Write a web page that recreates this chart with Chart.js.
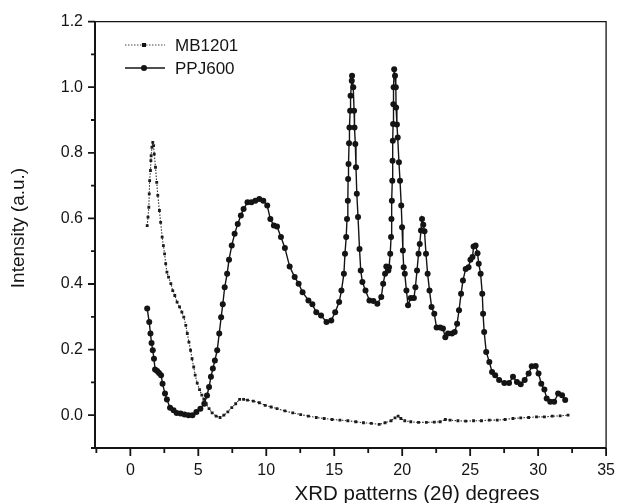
<!DOCTYPE html>
<html><head><meta charset="utf-8">
<script src="https://cdn.jsdelivr.net/npm/chart.js@4/dist/chart.umd.min.js"></script>
<style>html,body{margin:0;padding:0;background:#fff}#wrap{width:628px;height:503px}</style>
</head><body><div id="wrap"><canvas id="c" width="628" height="503"></canvas></div>
<script>
const seriesNames = ['MB1201', 'PPJ600'];
const xTitle = 'XRD patterns (2θ) degrees';
const yTitle = 'Intensity (a.u.)';
const xTickValues = [0, 5, 10, 15, 20, 25, 30, 35];
const xMinorValues = [-2.5, 2.5, 7.5, 12.5, 17.5, 22.5, 27.5, 32.5];
const yTickValues = [0, 0.2, 0.4, 0.6, 0.8, 1.0, 1.2];
const yMinorValues = [-0.1, 0.1, 0.3, 0.5, 0.7, 0.9, 1.1];

const mbX = [1.24,1.30,1.36,1.39,1.42,1.48,1.51,1.53,1.59,1.65,1.71,1.76,1.85,1.94,2.02,2.14,2.23,2.34,2.43,2.52,2.60,2.69,2.81,2.98,3.12,3.27,3.44,3.62,3.79,3.93,4.08,4.19,4.31,4.43,4.54,4.66,4.77,4.92,5.09,5.26,5.41,5.58,5.79,6.02,6.31,6.60,6.88,7.17,7.46,7.75,8.04,8.33,8.62,9.05,9.49,9.92,10.36,10.79,11.37,11.95,12.53,13.10,13.68,14.26,14.84,15.42,16.00,16.58,17.15,17.73,18.31,18.74,19.18,19.47,19.70,19.90,20.19,20.63,21.20,21.78,22.36,22.79,23.17,23.52,24.10,24.67,25.25,25.83,26.41,26.99,27.57,28.15,28.72,29.30,29.88,30.46,31.04,31.62,32.20];
const mbY = [0.578,0.604,0.634,0.675,0.715,0.746,0.776,0.791,0.817,0.832,0.822,0.796,0.756,0.710,0.670,0.624,0.588,0.543,0.517,0.492,0.462,0.436,0.421,0.401,0.380,0.365,0.345,0.330,0.314,0.299,0.274,0.249,0.223,0.198,0.172,0.147,0.122,0.098,0.078,0.061,0.048,0.035,0.020,0.007,-0.003,-0.007,0.000,0.010,0.023,0.035,0.048,0.048,0.046,0.043,0.038,0.030,0.025,0.020,0.013,0.007,0.002,-0.003,-0.007,-0.010,-0.013,-0.015,-0.017,-0.020,-0.023,-0.025,-0.028,-0.023,-0.017,-0.008,-0.003,-0.010,-0.017,-0.020,-0.022,-0.022,-0.021,-0.020,-0.013,-0.015,-0.017,-0.018,-0.017,-0.017,-0.015,-0.015,-0.013,-0.010,-0.008,-0.007,-0.005,-0.005,-0.003,-0.002,0.000];

const ppX = [1.24,1.39,1.48,1.56,1.65,1.74,1.82,1.97,2.11,2.26,2.37,2.55,2.69,2.92,3.18,3.41,3.70,3.99,4.28,4.57,4.86,5.15,5.44,5.64,5.79,5.93,6.07,6.22,6.39,6.54,6.68,6.80,6.94,7.12,7.26,7.46,7.67,7.90,8.13,8.33,8.62,8.91,9.20,9.49,9.78,10.07,10.30,10.56,10.79,11.08,11.37,11.72,12.09,12.38,12.67,13.10,13.39,13.68,14.03,14.43,14.78,15.07,15.36,15.53,15.71,15.79,15.88,15.94,16.00,16.02,16.05,16.09,16.12,16.17,16.20,16.29,16.31,16.40,16.46,16.49,16.55,16.60,16.66,16.75,16.86,16.95,17.07,17.30,17.59,17.88,18.17,18.46,18.60,18.74,18.83,18.98,19.03,19.12,19.18,19.21,19.24,19.27,19.29,19.31,19.33,19.35,19.37,19.41,19.47,19.53,19.55,19.61,19.67,19.76,19.84,19.93,19.99,20.05,20.11,20.19,20.31,20.43,20.63,20.86,20.97,21.09,21.20,21.29,21.38,21.46,21.55,21.64,21.75,21.87,22.01,22.16,22.36,22.53,22.79,23.00,23.17,23.37,23.66,23.86,24.04,24.18,24.33,24.47,24.67,24.88,25.02,25.17,25.25,25.40,25.54,25.63,25.77,25.89,25.95,26.03,26.18,26.41,26.61,26.84,27.13,27.51,27.86,28.15,28.44,28.72,29.01,29.30,29.53,29.82,30.03,30.23,30.46,30.63,30.89,31.18,31.47,31.76,31.99];
const ppY = [0.325,0.284,0.249,0.220,0.198,0.172,0.139,0.135,0.129,0.122,0.096,0.066,0.048,0.023,0.015,0.007,0.005,0.002,0.000,0.000,0.010,0.020,0.035,0.060,0.086,0.117,0.142,0.167,0.198,0.249,0.299,0.338,0.390,0.431,0.474,0.517,0.553,0.583,0.609,0.629,0.649,0.649,0.654,0.659,0.654,0.639,0.598,0.578,0.575,0.543,0.510,0.453,0.421,0.401,0.375,0.350,0.338,0.314,0.304,0.284,0.289,0.314,0.345,0.380,0.431,0.492,0.543,0.598,0.654,0.720,0.766,0.829,0.877,0.928,0.974,1.020,1.035,1.000,0.928,0.877,0.827,0.756,0.675,0.604,0.507,0.441,0.406,0.380,0.350,0.348,0.340,0.360,0.401,0.431,0.453,0.441,0.451,0.492,0.543,0.598,0.654,0.715,0.776,0.837,0.888,0.948,1.000,1.055,1.035,1.000,0.938,0.886,0.847,0.771,0.715,0.639,0.573,0.502,0.451,0.431,0.380,0.335,0.357,0.357,0.390,0.441,0.492,0.522,0.563,0.598,0.581,0.561,0.492,0.431,0.380,0.330,0.309,0.267,0.267,0.264,0.238,0.249,0.249,0.254,0.279,0.320,0.370,0.411,0.446,0.451,0.474,0.482,0.514,0.517,0.494,0.462,0.431,0.370,0.309,0.254,0.193,0.162,0.132,0.122,0.107,0.098,0.098,0.117,0.101,0.094,0.107,0.127,0.149,0.150,0.127,0.096,0.078,0.051,0.041,0.041,0.066,0.061,0.046];

const INK = '#141414';
const toPts = (xs, ys) => xs.map((x, i) => ({x: x, y: ys[i]}));

const framePlugin = {
  id: 'frame',
  afterDraw(chart) {
    const ctx = chart.ctx, a = chart.chartArea;
    const xs = chart.scales.x, ys = chart.scales.y;
    ctx.save();
    ctx.strokeStyle = INK;
    // top and right edges (thinner)
    ctx.lineWidth = 1.3;
    ctx.beginPath();
    ctx.moveTo(a.left, a.top); ctx.lineTo(a.right, a.top); ctx.lineTo(a.right, a.bottom);
    ctx.stroke();
    // left and bottom axes
    ctx.lineWidth = 2;
    ctx.beginPath();
    ctx.moveTo(a.left, a.top); ctx.lineTo(a.left, a.bottom); ctx.lineTo(a.right, a.bottom);
    ctx.stroke();
    ctx.lineWidth = 1.8;
    ctx.beginPath();
    xTickValues.forEach(v => { const p = xs.getPixelForValue(v); ctx.moveTo(p, a.bottom); ctx.lineTo(p, a.bottom + 8); });
    xMinorValues.forEach(v => { const p = xs.getPixelForValue(v); ctx.moveTo(p, a.bottom); ctx.lineTo(p, a.bottom + 5); });
    yTickValues.forEach(v => { const p = ys.getPixelForValue(v); ctx.moveTo(a.left, p); ctx.lineTo(a.left - 7, p); });
    yMinorValues.forEach(v => { const p = ys.getPixelForValue(v); ctx.moveTo(a.left, p); ctx.lineTo(a.left - 4, p); });
    ctx.stroke();

    // axis titles
    ctx.fillStyle = INK;
    ctx.textAlign = 'center';
    ctx.textBaseline = 'middle';
    ctx.font = '20.5px "Liberation Sans", Arial, sans-serif';
    ctx.fillText(xTitle, 417, 494);
    ctx.save();
    ctx.translate(19, 228);
    ctx.rotate(-Math.PI / 2);
    ctx.font = '19px "Liberation Sans", Arial, sans-serif';
    ctx.fillText(yTitle, 0, 0);
    ctx.restore();

    // legend
    const rows = [{y: 45, dash: [1.5, 1.5], style: 'rect', name: seriesNames[0], color: '#444', lw: 1},
                  {y: 68, dash: [], style: 'circle', name: seriesNames[1], color: INK, lw: 1.3}];
    rows.forEach(r => {
      ctx.beginPath();
      ctx.lineWidth = r.lw;
      ctx.strokeStyle = r.color;
      ctx.setLineDash(r.dash);
      ctx.moveTo(125, r.y); ctx.lineTo(165, r.y);
      ctx.stroke();
      ctx.setLineDash([]);
      ctx.fillStyle = INK;
      if (r.style === 'rect') { ctx.fillRect(142, r.y - 2, 4, 4); }
      else { ctx.beginPath(); ctx.arc(144, r.y, 3, 0, Math.PI * 2); ctx.fill(); }
      ctx.textAlign = 'left';
      ctx.font = '17px "Liberation Sans", Arial, sans-serif';
      ctx.fillText(r.name, 175, r.y + 1);
    });
    ctx.restore();
  }
};

new Chart(document.getElementById('c'), {
  type: 'scatter',
  data: {
    datasets: [
      {label: seriesNames[0], data: toPts(mbX, mbY), showLine: true, borderColor: '#333', borderWidth: 1.1,
       borderDash: [1.5, 1.5], pointStyle: 'rect', pointRadius: 2, pointBackgroundColor: '#1c1c1c', pointBorderWidth: 0},
      {label: seriesNames[1], data: toPts(ppX, ppY), showLine: true, borderColor: INK, borderWidth: 1.4,
       pointStyle: 'circle', pointRadius: 3, pointBackgroundColor: INK, pointBorderWidth: 0}
    ]
  },
  options: {
    responsive: false,
    devicePixelRatio: 1,
    animation: false,
    layout: {padding: {left: 0, top: 19.5, right: 10, bottom: 0}},
    plugins: {legend: {display: false}, tooltip: {enabled: false}},
    scales: {
      x: {
        type: 'linear', min: -2.6, max: 35,
        grid: {display: false, drawTicks: false}, border: {display: false},
        ticks: {color: INK, padding: 13, font: {size: 16, family: '"Liberation Sans", Arial, sans-serif'}, maxRotation: 0,
                callback: v => String(v)},
        afterBuildTicks: s => { s.ticks = xTickValues.map(v => ({value: v})); },
        afterFit: s => { s.height = 55; }
      },
      y: {
        type: 'linear', min: -0.1, max: 1.2,
        grid: {display: false, drawTicks: false}, border: {display: false},
        ticks: {color: INK, padding: 12, font: {size: 16, family: '"Liberation Sans", Arial, sans-serif'},
                callback: v => Number(v).toFixed(1)},
        afterBuildTicks: s => { s.ticks = yTickValues.map(v => ({value: v})); },
        afterFit: s => { s.width = 95; }
      }
    }
  },
  plugins: [framePlugin]
});
</script></body></html>
